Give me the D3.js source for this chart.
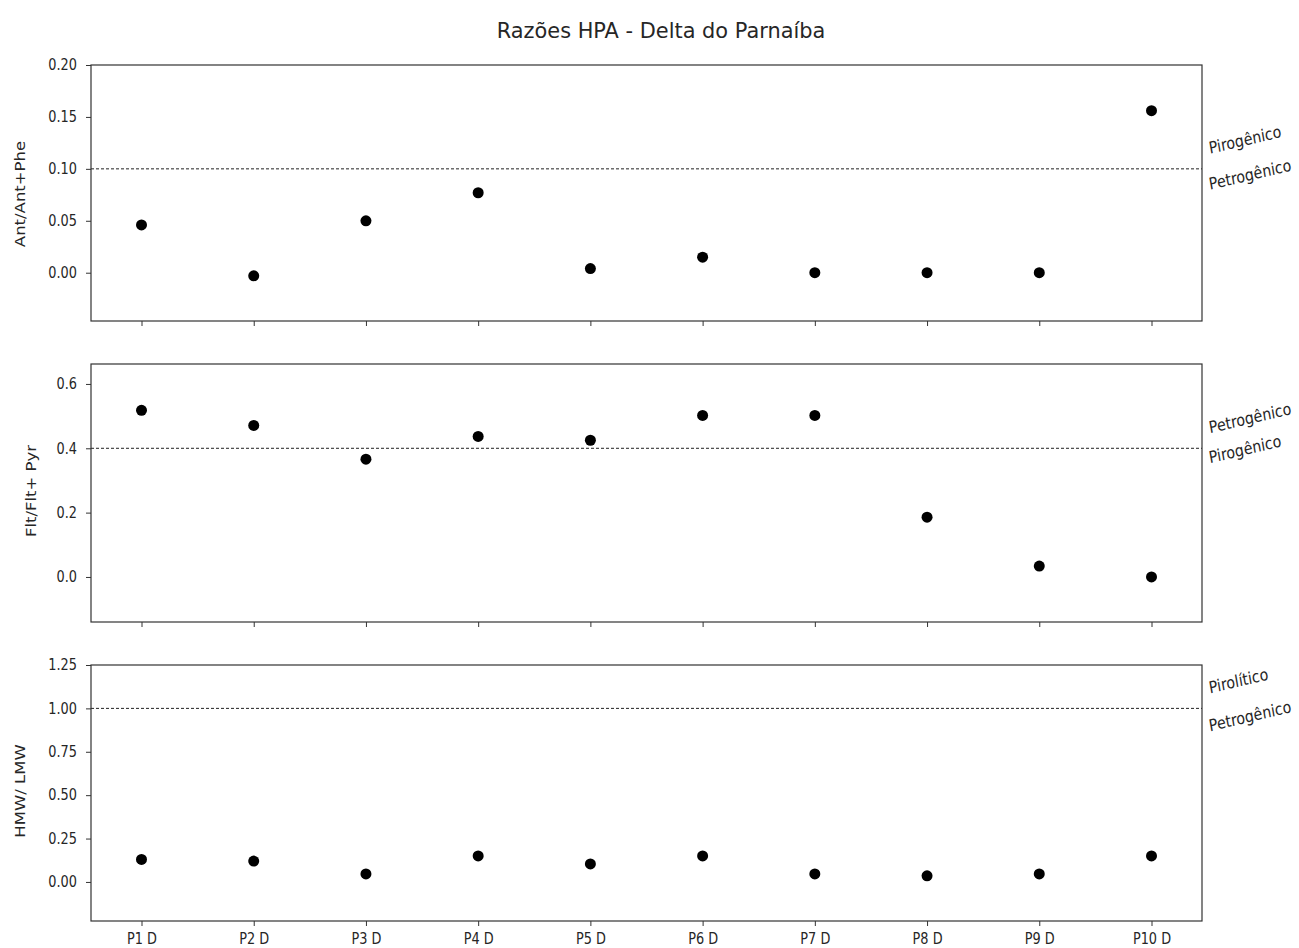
<!DOCTYPE html>
<html><head><meta charset="utf-8">
<script src="https://cdn.jsdelivr.net/npm/d3@7"></script>
<style>body{margin:0;background:#fff;} text{font-family:"DejaVu Sans",sans-serif;fill:#262626;}</style>
</head><body>
<svg id="c" width="1299" height="948"></svg>
<script>
const categories = ["P1 D","P2 D","P3 D","P4 D","P5 D","P6 D","P7 D","P8 D","P9 D","P10 D"];
const antPhe = [0.046,-0.003,0.050,0.077,0.004,0.015,0.000,0.000,0.000,0.156];
const fltPyr = [0.518,0.471,0.366,0.437,0.425,0.502,0.502,0.186,0.034,0.000];
const hmwLmw = [0.13,0.12,0.046,0.15,0.104,0.15,0.046,0.035,0.046,0.15];
const ticks1 = [0.00,0.05,0.10,0.15,0.20];
const ticks2 = [0.0,0.2,0.4,0.6];
const ticks3 = [0.00,0.25,0.50,0.75,1.00,1.25];
const title = "Razões HPA - Delta do Parnaíba";

const SX = 0.86;
const panels = [
  {vals: antPhe, dom: [-0.0465, 0.20], ticks: ticks1, fmt: d3.format(".2f"), label: "Ant/Ant+Phe", thr: 0.10, up: "Pirogênico", down: "Petrogênico", top: 65, bottom: 321, lx: 20, ly: 194, uo: -15, dof: 21},
  {vals: fltPyr, dom: [-0.14, 0.662], ticks: ticks2, fmt: d3.format(".1f"), label: "Flt/Flt+ Pyr", thr: 0.40, up: "Petrogênico", down: "Pirogênico", top: 364, bottom: 622, lx: 31, ly: 491, uo: -15, dof: 15},
  {vals: hmwLmw, dom: [-0.225, 1.25], ticks: ticks3, fmt: d3.format(".2f"), label: "HMW/ LMW", thr: 1.00, up: "Pirolítico", down: "Petrogênico", top: 665, bottom: 921, lx: 20, ly: 791, uo: -15, dof: 23}
];

const svg = d3.select("#c");
const L = 91, R = 1202;
const x = d3.scaleLinear().domain([-0.45, categories.length - 1 + 0.45]).range([L, R]);

svg.append("text").attr("transform", "translate(661,38) scale(0.95,1)").attr("text-anchor","middle")
  .style("font-size","22px").text(title);

panels.forEach((p, pi) => {
  const y = d3.scaleLinear().domain(p.dom).range([p.bottom, p.top]);
  const g = svg.append("g");
  // y axis
  const ya = g.append("g").attr("transform", `translate(${L},0)`)
    .call(d3.axisLeft(y).tickValues(p.ticks).tickFormat(p.fmt).tickSize(5).tickPadding(9));
  ya.select(".domain").remove();
  ya.selectAll("text").style("font-size","15px").attr("fill","#262626").style("font-family","DejaVu Sans")
    .attr("x", -14 / SX).attr("transform", `scale(${SX},1)`);
  ya.selectAll("line").attr("stroke","#333");
  // x axis
  const xa = g.append("g").attr("transform", `translate(0,${p.bottom})`)
    .call(d3.axisBottom(x).tickValues(d3.range(categories.length)).tickFormat(i => pi === 2 ? categories[i] : "").tickSize(5).tickPadding(7));
  xa.select(".domain").remove();
  xa.selectAll("text").style("font-size","15px").attr("fill","#262626").style("font-family","DejaVu Sans")
    .attr("transform", `scale(${SX},1)`);
  xa.selectAll("line").attr("stroke","#333");
  // threshold
  g.append("line").attr("x1", L).attr("x2", R).attr("y1", y(p.thr)).attr("y2", y(p.thr))
    .attr("stroke","#222").attr("stroke-width",1).attr("stroke-dasharray","3,2");
  // points
  g.selectAll("circle").data(p.vals).enter().append("circle")
    .attr("cx", (d,i) => x(i)).attr("cy", d => y(d)).attr("r", 5.5).attr("fill","#000");
  // frame
  g.append("rect").attr("x", L).attr("y", p.top).attr("width", R - L).attr("height", p.bottom - p.top)
    .attr("fill","none").attr("stroke","#333").attr("stroke-width",1.2);
  // y label
  g.append("text").attr("transform", `translate(${p.lx},${p.ly}) scale(${SX},1) rotate(-90)`)
    .attr("dy","0.35em").attr("text-anchor","middle").style("font-size","16.5px").text(p.label);
  // side labels
  const ty = y(p.thr);
  g.append("text").attr("transform", `translate(1210,${ty + p.uo}) scale(${SX},1) rotate(-11.5)`)
    .style("font-size","16.5px").text(p.up);
  g.append("text").attr("transform", `translate(1210,${ty + p.dof}) scale(${SX},1) rotate(-11.5)`)
    .style("font-size","16.5px").text(p.down);
});
</script>
</body></html>
